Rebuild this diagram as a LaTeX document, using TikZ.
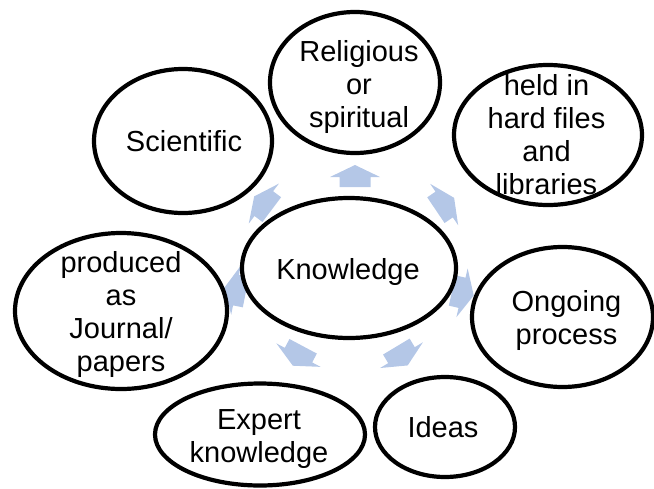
\documentclass[tikz,border=0pt]{standalone}
\usepackage{fontspec}
\setmainfont{Liberation Sans}
\usetikzlibrary{shapes.geometric}
\definecolor{arrowblue}{RGB}{180,199,231}
\tikzset{
  oval/.style={ellipse, draw=black, line width=4.2pt, fill=white, inner sep=0pt},
  txt/.style={align=center, inner sep=0pt, font=\fontsize{29}{33}\selectfont},
  blockarr/.pic={\fill[arrowblue] (-11,15.5) -- (-1,15.5) -- (-1,25) -- (11,0) -- (-1,-25) -- (-1,-15.5) -- (-11,-15.5) -- cycle;}
}
\begin{document}
\begin{tikzpicture}[x=1pt,y=-1pt]
\useasboundingbox (0,0) rectangle (654,488);
% arrows
\path (355,176) pic[rotate=90] {blockarr};
\path (445,204) pic[rotate=34] {blockarr};
\path (463,293) pic[rotate=-13] {blockarr};
\path (402,356) pic[rotate=-59] {blockarr};
\path (298,356) pic[rotate=-118] {blockarr};
\path (235,290) pic[rotate=169] {blockarr};
\path (263,203) pic[rotate=143] {blockarr};
% ellipses
\node[oval, minimum width=214pt, minimum height=140pt] (know) at (349,268) {};
\node[oval, minimum width=170pt, minimum height=141pt] (rel) at (355,82.5) {};
\node[oval, minimum width=178pt, minimum height=144pt] (sci) at (183,141) {};
\node[oval, minimum width=188pt, minimum height=140pt] (held) at (548,135) {};
\node[oval, minimum width=181pt, minimum height=140pt] (ongo) at (562.5,317) {};
\node[oval, minimum width=140pt, minimum height=100pt] (ideas) at (445,427) {};
\node[oval, minimum width=210pt, minimum height=102pt] (expert) at (260,434.5) {};
\node[oval, minimum width=212pt, minimum height=156pt] (prod) at (121,311) {};
% texts
\node[txt] (knowT) at (348,271.5) {Knowledge};
\node[txt] (relT) at (359,86.5) {Religious\\or\\spiritual};
\node[txt] (sciT) at (184,141.5) {Scientific};
\node[txt] (heldT) at (546.5,134.5) {held in\\hard files\\and\\libraries};
\node[txt] (ongoT) at (566.5,320) {Ongoing\\process};
\node[txt] (ideasT) at (443,427.5) {Ideas};
\node[txt] (expertT) at (259,439) {Expert\\knowledge};
\node[txt] (prodT) at (121,314.5) {produced\\as\\Journal/\\papers};
\end{tikzpicture}
\end{document}
